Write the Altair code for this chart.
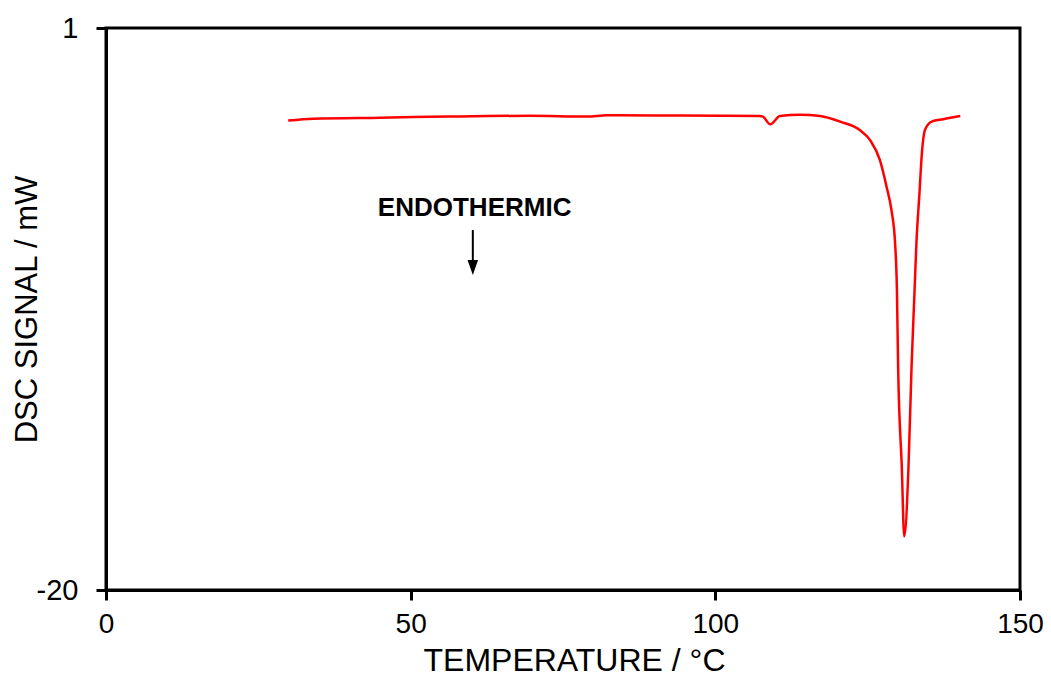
import altair as alt
import pandas as pd

temperature = [29.9, 34.0, 45.0, 56.0, 69.6, 79.0, 82.2, 90.0, 100.8, 107.3, 107.8, 109.0,
               110.6, 113.9, 117.2, 120.5, 123.7, 125.4, 127.0, 128.1, 128.9, 129.5,
               129.8, 130.0, 130.6, 131.0, 131.7, 132.2, 132.7, 133.0, 133.5, 133.9,
               134.4, 135.5, 137.4, 140.2]
signal = [-2.46, -2.39, -2.35, -2.31, -2.28, -2.31, -2.26, -2.27, -2.28, -2.29, -2.31, -2.60,
          -2.29, -2.24, -2.29, -2.50, -2.81, -3.19, -3.93, -4.93, -5.80, -7.04,
          -8.79, -11.67, -15.4, -18.0, -15.4, -11.67, -8.79, -7.04, -5.17, -3.67,
          -2.81, -2.50, -2.41, -2.29]

note_text = ["ENDOTHERMIC"]
note_x = [60.5]
note_y = [-5.71]
arrow_x = [60.2]
arrow_top = [-6.55]
arrow_head_y = [-7.95]

df = pd.DataFrame({"T": temperature, "S": signal})
notes = pd.DataFrame({"label": note_text, "x": note_x, "y": note_y})
arrow = pd.DataFrame({"x": arrow_x, "y1": arrow_top, "y2": arrow_head_y})

FONT = "Liberation Sans"

xscale = alt.Scale(domain=[0, 150], nice=False, zero=False)
yscale = alt.Scale(domain=[-20, 1], nice=False, zero=False)

line = alt.Chart(df).mark_line(color="#ff0000", strokeWidth=2.5, interpolate="monotone").encode(
    x=alt.X("T:Q", scale=xscale,
            axis=alt.Axis(values=[0, 50, 100, 150], title="TEMPERATURE / °C", labelFlush=False,
                          labelFontSize=28, titleFontSize=32,
                          titleX=468, titleY=80, titleBaseline="alphabetic")),
    y=alt.Y("S:Q", scale=yscale,
            axis=alt.Axis(values=[1, -20], title="DSC SIGNAL / mW", labelFlush=False,
                          labelExpr="datum.value < 0 ? '-' + abs(datum.value) : datum.label",
                          labelFontSize=29, titleFontSize=31,
                          titleX=-70, titleY=281, titleBaseline="alphabetic", titleAngle=-90)),
)

text = alt.Chart(notes).mark_text(font=FONT, fontSize=26, fontWeight="bold", color="black",
                                  baseline="middle", align="center").encode(
    x=alt.X("x:Q", scale=xscale), y=alt.Y("y:Q", scale=yscale), text="label:N")

shaft = alt.Chart(arrow).mark_rule(color="black", strokeWidth=2).encode(
    x=alt.X("x:Q", scale=xscale), y=alt.Y("y1:Q", scale=yscale), y2="y2:Q")

head = alt.Chart(arrow).mark_point(shape="M-0.7,-1L0.7,-1L0,1Z", size=225, filled=True,
                                   color="black", opacity=1).encode(
    x=alt.X("x:Q", scale=xscale), y=alt.Y("y2:Q", scale=yscale))

chart = alt.layer(line, shaft, head, text).properties(
    width=914, height=562, autosize="none",
    padding={"left": 98, "top": 20, "right": 23, "bottom": 86},
).configure_view(stroke="black", strokeWidth=3).configure_axis(
    domainColor="black", domainWidth=3, tickColor="black", tickWidth=3, tickSize=10,
    grid=False, labelFont=FONT, labelColor="black", labelPadding=10,
    titleFont=FONT, titleFontWeight="normal", titleColor="black",
).configure_axisY(labelPadding=18)

chart.save("out.html", embed_options={"renderer": "svg", "actions": False})
